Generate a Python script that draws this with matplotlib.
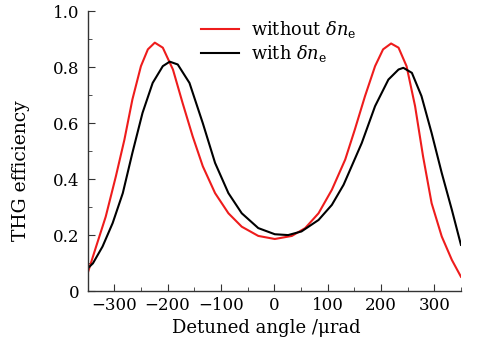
import numpy as np
import matplotlib
matplotlib.use("Agg")
import matplotlib.pyplot as plt
from matplotlib.ticker import MultipleLocator

# --- dati ---
x_without = [-351, -334, -316, -297, -281, -266, -250, -237, -224, -209, -190,
             -172, -153, -134, -111, -86, -61, -30, 1, 33, 58, 83, 108, 133,
             151, 170, 189, 204, 219, 233, 248, 264, 279, 295, 314, 333, 350]
y_without = [0.057, 0.159, 0.266, 0.410, 0.541, 0.685, 0.804, 0.864, 0.888,
             0.870, 0.792, 0.673, 0.553, 0.446, 0.350, 0.278, 0.230, 0.197,
             0.186, 0.197, 0.225, 0.278, 0.362, 0.470, 0.577, 0.696, 0.804,
             0.864, 0.885, 0.870, 0.804, 0.661, 0.481, 0.314, 0.195, 0.111, 0.051]

x_with = [-353, -340, -322, -303, -284, -266, -247, -228, -209, -196, -181,
          -159, -134, -111, -86, -61, -30, 1, 26, 51, 83, 108, 130, 164, 189,
          214, 233, 242, 258, 276, 295, 314, 333, 350]
y_with = [0.075, 0.099, 0.159, 0.243, 0.350, 0.494, 0.637, 0.744, 0.804, 0.820,
          0.810, 0.744, 0.600, 0.458, 0.350, 0.278, 0.225, 0.203, 0.200, 0.213,
          0.254, 0.308, 0.380, 0.529, 0.661, 0.756, 0.792, 0.798, 0.780, 0.697,
          0.565, 0.422, 0.290, 0.165]

label_without = r'without $\delta n_{\mathrm{e}}$'
label_with = r'with $\delta n_{\mathrm{e}}$'

plt.rcParams['font.family'] = 'DejaVu Serif'
plt.rcParams['mathtext.fontset'] = 'dejavuserif'

fig = plt.figure(figsize=(4.8, 3.38), dpi=100)
ax = fig.add_axes([0.1825, 0.139, 0.7778, 0.8275])

ax.plot(x_without, y_without, color='#ee1c1c', lw=1.5, label=label_without)
ax.plot(x_with, y_with, color='black', lw=1.5, label=label_with)

ax.set_xlim(-350, 350)
ax.set_ylim(0, 1.0)
ax.xaxis.set_major_locator(MultipleLocator(100))
ax.xaxis.set_minor_locator(MultipleLocator(50))
ax.yaxis.set_minor_locator(MultipleLocator(0.1))
ax.set_yticks([0, 0.2, 0.4, 0.6, 0.8, 1.0])
ax.set_yticklabels(['0', '0.2', '0.4', '0.6', '0.8', '1.0'])

for s in ['top', 'right']:
    ax.spines[s].set_visible(False)
for s in ['left', 'bottom']:
    ax.spines[s].set_color('#333333')
    ax.spines[s].set_linewidth(1.0)

ax.tick_params(which='both', direction='in', labelsize=12, colors='#333333',
               labelcolor='black')
ax.tick_params(which='major', length=5, pad=6)
ax.tick_params(axis='x', which='major', pad=4)
ax.tick_params(which='minor', length=3)

ax.set_xlabel('Detuned angle /\u03bcrad', fontsize=13)
ax.xaxis.set_label_coords(0.48, -0.1)
ax.set_ylabel('THG efficiency', fontsize=13.5)
ax.yaxis.set_label_coords(-0.155, 0.43)

ax.legend(loc='upper left', bbox_to_anchor=(0.262, 1.03), frameon=False,
          fontsize=12.8, handlelength=2.1, handletextpad=0.7, labelspacing=0.2)

fig.savefig('out.png', dpi=100)
